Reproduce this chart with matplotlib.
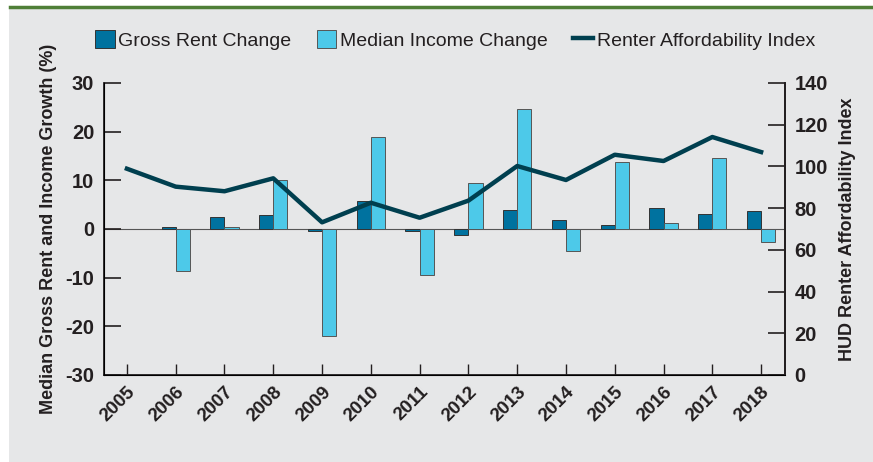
import matplotlib.pyplot as plt
import numpy as np
from matplotlib.patches import Rectangle
from matplotlib.lines import Line2D

years = [str(y) for y in range(2005, 2019)]
# 2005 has no change bars in the source chart
gross_rent = [np.nan, 0.5, 2.5, 2.9, -0.5, 5.7, -0.5, -1.2, 3.9, 1.8, 0.8, 4.3, 3.1, 3.7]
median_income = [np.nan, -8.6, 0.5, 10.1, -22.0, 18.9, -9.5, 9.4, 24.6, -4.6, 13.8, 1.3, 14.5, -2.7]
affordability = [98.9, 90.3, 88.1, 94.3, 73.2, 82.6, 75.4, 83.6, 100.2, 93.5, 105.6, 102.6, 114.1, 106.9]

BG = "#e6e7e8"
RENT_COLOR = "#00729f"
INCOME_COLOR = "#4dc9e9"
LINE_COLOR = "#003f4f"
TEXT = "#231f20"

plt.rcParams['font.family'] = ["Liberation Sans", "DejaVu Sans"]
plt.rcParams['axes.unicode_minus'] = False

fig = plt.figure(figsize=(8.73, 4.62), dpi=100, facecolor="white")
fig.patches.append(Rectangle((9 / 873, 0), 1, 1 - 9 / 462, transform=fig.transFigure,
                             facecolor=BG, edgecolor="none", zorder=-10))
fig.lines.append(Line2D([10 / 873, 1], [1 - 7 / 462, 1 - 7 / 462], transform=fig.transFigure,
                        color="#4f7f37", linewidth=2.5, zorder=-5))

ax = fig.add_axes([104 / 873, 1 - 375 / 462, (785 - 104) / 873, (375 - 83) / 462])
ax.set_facecolor("none")
x = np.arange(len(years))
w = 0.29

ax.axhline(0, color="#555555", linewidth=0.8, zorder=1)
ax.bar(x - w / 2, gross_rent, w, color=RENT_COLOR, edgecolor="#333333", linewidth=0.7,
       label="Gross Rent Change", zorder=2)
ax.bar(x + w / 2, median_income, w, color=INCOME_COLOR, edgecolor="#555555", linewidth=0.7,
       label="Median Income Change", zorder=2)

ax.set_xlim(-0.47, 13.49)
ax.set_ylim(-30, 30)
ax.set_yticks(range(-30, 31, 10))
ax.set_xticks(x)
ax.set_xticklabels(years, rotation=45, ha="right", rotation_mode="anchor",
                   fontsize=13.5, fontweight="bold", color=TEXT)
ax.tick_params(axis="y", direction="in", length=12, width=1.2, labelsize=14.5,
               pad=7, colors=TEXT)
ax.tick_params(axis="x", direction="in", length=8, width=1, pad=6, colors=TEXT)
for lab in ax.get_yticklabels():
    lab.set_fontweight("bold")
ax.set_ylabel("Median Gross Rent and Income Growth (%)", fontsize=13, fontweight="bold",
              color=TEXT, labelpad=6)
ax.spines["top"].set_visible(False)
for s in ["left", "bottom", "right"]:
    ax.spines[s].set_linewidth(1.3)
    ax.spines[s].set_color(TEXT)

ax2 = ax.twinx()
ax2.plot(x, affordability, color=LINE_COLOR, linewidth=3.2, label="Renter Affordability Index",
         zorder=3)
ax2.set_ylim(0, 140)
ax2.set_yticks(range(0, 141, 20))
ax2.tick_params(axis="y", direction="in", length=12, width=1.2, labelsize=14.5,
                pad=7, colors=TEXT)
for lab in ax2.get_yticklabels():
    lab.set_fontweight("bold")
ax2.set_ylabel("HUD Renter Affordability Index", fontsize=13, fontweight="bold",
               color=TEXT, labelpad=8)
ax2.spines["top"].set_visible(False)
ax2.spines["right"].set_linewidth(1.3)
ax2.spines["right"].set_color(TEXT)

h1, l1 = ax.get_legend_handles_labels()
h2, l2 = ax2.get_legend_handles_labels()
fig.legend(h1 + h2, l1 + l2, loc="center", bbox_to_anchor=(455 / 873, 1 - 40 / 462), ncol=3,
           frameon=False, fontsize=14, handlelength=1.0, handleheight=1.0,
           handletextpad=0.2, columnspacing=1.3, labelcolor=TEXT)

fig.savefig("out.png", dpi=100, facecolor=fig.get_facecolor())
